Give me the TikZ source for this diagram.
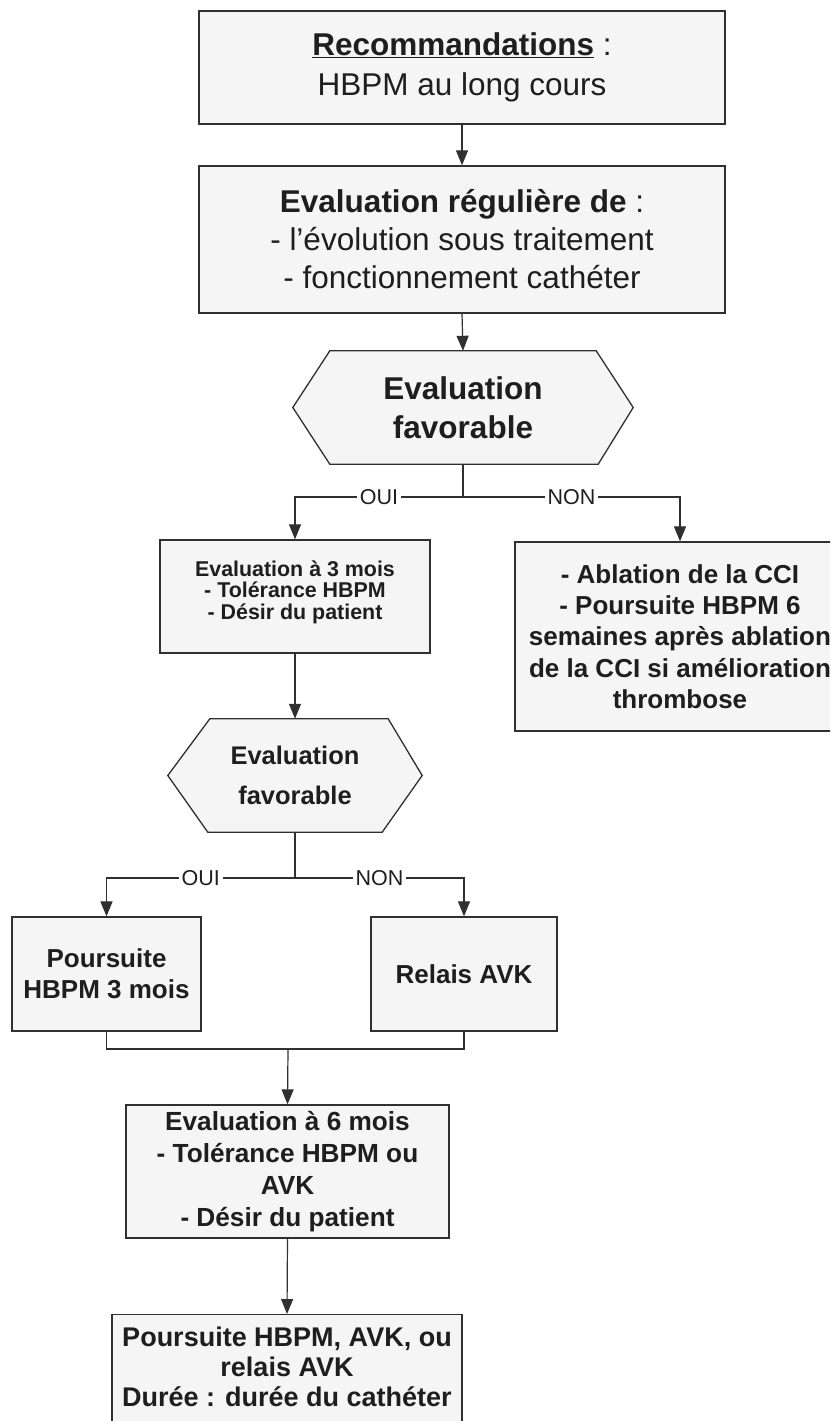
\documentclass[tikz,border=0pt]{standalone}
\usepackage{fontspec}
\setmainfont{Liberation Sans}
\usetikzlibrary{arrows.meta,backgrounds}
\definecolor{linec}{HTML}{303030}
\definecolor{boxf}{HTML}{F5F5F5}
\definecolor{txtc}{HTML}{1E1E1E}
\tikzset{
  boxn/.style={draw=linec, line width=1.3pt, fill=boxf, inner sep=2pt, align=center, text=txtc},
  txtn/.style={inner sep=0pt, align=center, text=txtc},
  hexline/.style={draw=linec, line width=1.3pt, fill=boxf},
  conn/.style={draw=linec, line width=1.2pt},
  arr/.style={conn, -{Triangle[length=15pt,width=12pt]}},
  lab/.style={fill=white, inner xsep=3pt, inner ysep=1pt, text=txtc, font=\fontsize{21.5}{24}\selectfont},
}
\begin{document}
\begin{tikzpicture}[x=1pt,y=-1pt]
\useasboundingbox (0,0) rectangle (830,1421);
\clip (0,0) rectangle (830,1421);

% top boxes
\node[boxn, minimum width=526pt, minimum height=113pt, font=\fontsize{31.5}{40}\selectfont]
  (reco) at (462,67.5) {\underline{\textbf{Recommandations}} :\\HBPM au long cours};
\node[boxn, minimum width=526pt, minimum height=147pt, font=\fontsize{31.5}{38}\selectfont]
  (evalreg) at (462,239.5) {\textbf{Evaluation régulière de} :\\- l'évolution sous traitement\\- fonctionnement cathéter};

% hexagon 1 (text area)
\node[txtn, minimum width=340pt, minimum height=113pt, font=\fontsize{31.5}{39}\selectfont\bfseries]
  (hexa) at (463,407.5) {Evaluation\\favorable};

% left branch box (frame + text)
\node[boxn, minimum width=270pt, minimum height=113pt] (trois) at (295,596.5) {};
\node[txtn, font=\fontsize{21.4}{21.5}\selectfont\bfseries] (troistext) at (295,592)
  {Evaluation à 3 mois\\- Tolérance HBPM\\- Désir du patient};

% right box
\node[boxn, minimum width=330pt, minimum height=189pt, inner sep=0pt, font=\fontsize{26}{31.2}\selectfont\bfseries]
  (ablation) at (680,636.5) {- Ablation de la CCI\\- Poursuite HBPM 6\\semaines après ablation\\de la CCI si amélioration\\thrombose};

% hexagon 2 (text area)
\node[txtn, minimum width=254pt, minimum height=113pt, font=\fontsize{25.5}{40}\selectfont\bfseries]
  (hexb) at (295,775.5) {Evaluation\\favorable};

% second level boxes
\node[boxn, minimum width=189pt, minimum height=114pt, font=\fontsize{26}{31}\selectfont\bfseries]
  (pours) at (106.5,974) {Poursuite\\HBPM 3 mois};
\node[boxn, minimum width=186pt, minimum height=114pt, font=\fontsize{26}{31}\selectfont\bfseries]
  (relais) at (464,974) {Relais AVK};

% 6 months box
\node[boxn, minimum width=323pt, minimum height=133pt, font=\fontsize{26.2}{32}\selectfont\bfseries]
  (six) at (287.5,1171.5) {Evaluation à 6 mois\\- Tolérance HBPM ou\\AVK\\- Désir du patient};

% final box (bottom edge runs off the page)
\node[boxn, anchor=north, minimum width=350pt, minimum height=140pt] (fin) at (287,1314) {};
\node[txtn, font=\fontsize{27}{30}\selectfont\bfseries] (fintext) at (287,1367)
  {Poursuite HBPM, AVK, ou\\relais AVK\\Durée : durée du cathéter};

% hexagon outlines
\begin{scope}[on background layer]
  \draw[hexline] (hexa.west) -- ([xshift=37pt]hexa.north west) -- ([xshift=-37pt]hexa.north east)
    -- (hexa.east) -- ([xshift=-35pt]hexa.south east) -- ([xshift=37pt]hexa.south west) -- cycle;
  \draw[hexline] (hexb.west) -- ([xshift=42pt]hexb.north west) -- ([xshift=-34pt]hexb.north east)
    -- (hexb.east) -- ([xshift=-40pt]hexb.south east) -- ([xshift=40pt]hexb.south west) -- cycle;
\end{scope}

% connectors
\draw[arr] (reco.south) -- (evalreg.north);
\draw[arr] (evalreg.south) -- (hexa.north);

\coordinate (ja) at (463,497);
\draw[conn] (hexa.south) -- (ja);
\draw[arr] (ja) -- node[lab] {OUI} (ja -| trois.north) -- (trois.north);
\draw[arr] (ja) -- node[lab] {NON} (ja -| ablation.north) -- (ablation.north);

\draw[arr] (trois.south) -- (hexb.north);

\coordinate (jb) at (295,878);
\draw[conn] (hexb.south) -- (jb);
\draw[arr] (jb) -- node[lab] {OUI} (jb -| pours.north) -- (pours.north);
\draw[arr] (jb) -- node[lab] {NON} (jb -| relais.north) -- (relais.north);

\coordinate (jc) at (288,1049);
\draw[conn] (pours.south) -- (pours.south |- jc) -- (relais.south |- jc) -- (relais.south);
\draw[arr] (jc) -- (six.north);
\draw[arr] (six.south) -- (fin.north);
\end{tikzpicture}
\end{document}
